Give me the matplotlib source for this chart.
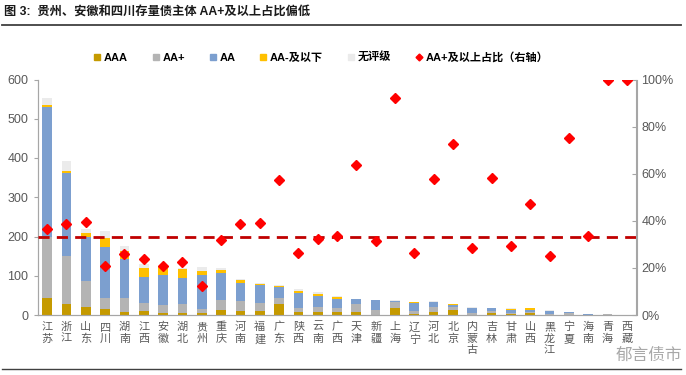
import numpy as np
import matplotlib
matplotlib.use("Agg")
import matplotlib.pyplot as plt
from matplotlib.lines import Line2D
from matplotlib.ticker import PercentFormatter

plt.rcParams['font.family'] = ['Liberation Sans', 'Noto Sans CJK SC']

# provinces, sorted by total number of issuers
provinces = ['江苏', '浙江', '山东', '四川', '湖南', '江西', '安徽', '湖北', '贵州', '重庆',
             '河南', '福建', '广东', '陕西', '云南', '广西', '天津', '新疆', '上海', '辽宁',
             '河北', '北京', '内蒙古', '吉林', '甘肃', '山西', '黑龙江', '宁夏', '海南', '青海', '西藏']

# issuer counts by rating
aaa = [43, 27, 21, 15, 8, 11, 4, 6, 4, 13, 11, 11, 27, 7, 7, 7, 8.5, 0, 19, 3,
       8, 13, 1, 5, 2, 4, 0, 0, 0, 0, 0]
aa_plus = [157, 123, 66, 29, 36, 20, 21, 21, 11, 25, 25, 20, 17, 10, 12.5, 10, 18.5, 12, 15, 6,
           12, 8, 5, 6, 3, 4.5, 3, 6, 1, 2, 1]
aa = [329, 213, 113, 130, 98, 66, 76, 67, 88, 70, 45, 45.5, 26.5, 40, 29.5, 24, 13, 26, 2, 21,
      13, 4, 12, 7, 7, 5, 8, 1, 2, 0, 0]
aa_minus = [7, 5, 9, 23, 21, 24, 21, 24, 10, 7, 8, 1.5, 4.5, 5, 4.5, 6, 0.5, 0, 0, 3,
            0, 2, 1, 0, 4, 4, 0, 0, 0, 0, 0]
no_rating = [18, 25, 10, 17, 13, 9, 1, 3, 9, 4, 3, 3, 1.5, 3.5, 4.5, 2, 1.5, 1, 1, 1,
             2, 2, 2, 1, 1, 0.5, 1, 1, 0, 0, 0]

# share of AA+ and above (right axis)
ratio = [0.366, 0.386, 0.395, 0.206, 0.26, 0.236, 0.206, 0.223, 0.125, 0.32,
         0.386, 0.39, 0.575, 0.262, 0.323, 0.336, 0.635, 0.316, 0.92, 0.265,
         0.577, 0.726, 0.286, 0.58, 0.295, 0.472, 0.251, 0.752, 0.336, 1.0, 1.0]
avg_ratio = 0.33

series = [
    ('AAA', aaa, '#C59A00'),
    ('AA+', aa_plus, '#B4B4B4'),
    ('AA', aa, '#7C9FCF'),
    ('AA-及以下', aa_minus, '#FFC000'),
    ('无评级', no_rating, '#EBEBEB'),
]

fig = plt.figure(figsize=(6.86, 3.75), dpi=100)
ax = fig.add_axes([37.5 / 686, 1 - 315 / 375, 599 / 686, 235.5 / 375])
ax2 = ax.twinx()

x = np.arange(len(provinces))
bottom = np.zeros(len(provinces))
handles = []
for name, vals, col in series:
    vals = np.array(vals, dtype=float)
    ax.bar(x, vals, 0.5, bottom=bottom, color=col, zorder=2)
    bottom += vals
    handles.append(Line2D([], [], marker='s', ls='', color=col, markersize=5, label=name))

ax2.plot(x, ratio, ls='', marker='D', color='#FF0000', markersize=5.2, zorder=5)
ax2.plot([-0.5, len(provinces) - 0.5], [avg_ratio, avg_ratio], ls=(0, (4, 2.6)),
         color='#C00000', lw=2, zorder=4)
handles.append(Line2D([], [], marker='D', ls='', color='#FF0000', markersize=3.5,
                      label='AA+及以上占比（右轴）'))

ax.set_xlim(-0.5, len(provinces) - 0.5)
ax.set_ylim(0, 600)
ax.set_yticks(range(0, 601, 100))
ax2.set_ylim(0, 1)
ax2.set_yticks(np.arange(0, 1.01, 0.2))
ax2.yaxis.set_major_formatter(PercentFormatter(1, decimals=0))

ax.set_xticks(x)
ax.set_xticklabels(['\n'.join(p) for p in provinces], fontsize=8, color='#595959',
                   linespacing=1.2, family=['Noto Sans CJK SC'])
ax.tick_params(axis='x', length=0, pad=5)
ax.tick_params(axis='y', labelsize=9, colors='#595959', length=3, color='#A6A6A6')
ax2.tick_params(axis='y', labelsize=9, colors='#595959', length=3, color='#A6A6A6',
                direction='in')

for a in (ax, ax2):
    a.spines['top'].set_visible(False)
    for s in ('left', 'right', 'bottom'):
        a.spines[s].set_color('#A6A6A6')

fig.legend(handles=handles, loc='center', bbox_to_anchor=(0.468, 0.848), ncol=6,
           frameon=False, handlelength=0.6, handletextpad=0.3,
           columnspacing=2.2, prop={'weight': 'bold', 'size': 8})

fig.text(0.006, 1 - 12 / 375, '图 3:  贵州、安徽和四川存量债主体 AA+及以上占比偏低',
         fontsize=8.8, weight='bold', color='#1A1A1A', va='center')
fig.add_artist(Line2D([0.003, 0.992], [1 - 25 / 375] * 2, color='#404040', lw=1.3))
fig.add_artist(Line2D([0.003, 0.992], [1 - 369 / 375] * 2, color='#404040', lw=1.0))
fig.text(0.995, 1 - 355 / 375, '郁言债市', fontsize=12, color='#A8A8A8', ha='right',
         va='center', family=['Noto Sans CJK SC'])

fig.savefig('out.png', dpi=100)
